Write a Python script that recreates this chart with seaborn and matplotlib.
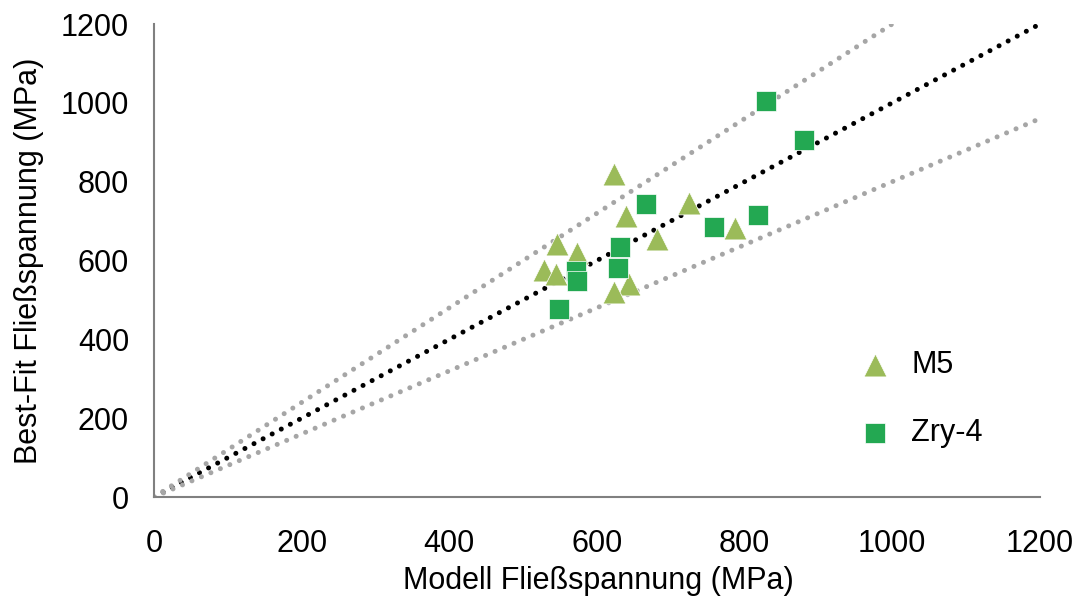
import numpy as np
import pandas as pd
import matplotlib
matplotlib.use("Agg")
import matplotlib.pyplot as plt
import seaborn as sns

# Measured vs. modelled yield stress (MPa)
m5_model = [623, 725, 639, 681, 546, 573, 528, 544, 643, 623, 787]
m5_bestfit = [819, 746, 713, 655, 642, 619, 576, 566, 540, 520, 682]
zry_model = [829, 880, 818, 758, 666, 631, 628, 571, 573, 549]
zry_bestfit = [1005, 906, 715, 685, 743, 634, 581, 573, 548, 477]

# Reference lines: y = x and ±20 % band
band_factors = [1.2, 0.8]
axis_max = 1200
ticks = [0, 200, 400, 600, 800, 1000, 1200]

m5 = pd.DataFrame({"model": m5_model, "bestfit": m5_bestfit})
zry = pd.DataFrame({"model": zry_model, "bestfit": zry_bestfit})

sns.set_style("white")
plt.rcParams["font.family"] = ["Liberation Sans", "DejaVu Sans"]

fs = 22
fig = plt.figure(figsize=(10.81, 6.02), dpi=100)
ax = fig.add_axes([0.1425, 0.1744, 0.8195, 0.7857])

dot_style = (0, (0.01, 2.05))
lw = 3.6
xs = np.array([0, axis_max])
ax.plot(xs, xs, color="black", lw=lw, linestyle=dot_style,
        dash_capstyle="round", zorder=1)
up_x = np.array([0, axis_max / band_factors[0]])
ax.plot(up_x, up_x * band_factors[0], color="#A6A6A6", lw=lw,
        linestyle=dot_style, dash_capstyle="round", zorder=1)
ax.plot(xs, xs * band_factors[1], color="#A6A6A6", lw=lw,
        linestyle=dot_style, dash_capstyle="round", zorder=1)

sns.scatterplot(data=m5, x="model", y="bestfit", marker="^", color="#9BBB59",
                s=270, edgecolor="white", linewidth=0.5, ax=ax, zorder=3,
                label="M5")
sns.scatterplot(data=zry, x="model", y="bestfit", marker="s", color="#23A852",
                s=225, edgecolor="white", linewidth=0.5, ax=ax, zorder=3,
                label="Zry-4")

ax.set_xlim(0, axis_max)
ax.set_ylim(0, axis_max)
ax.set_xticks(ticks)
ax.set_yticks(ticks)
ax.tick_params(axis="both", labelsize=fs, colors="black", length=8,
               width=1.5, direction="out", color="#808080")
ax.tick_params(axis="x", pad=15)
ax.tick_params(axis="y", pad=10)
for side in ["top", "right"]:
    ax.spines[side].set_visible(False)
for side in ["left", "bottom"]:
    ax.spines[side].set_color("#808080")
    ax.spines[side].set_linewidth(1.5)

ax.set_xlabel("Modell Fließspannung (MPa)", fontsize=fs, color="black")
ax.set_ylabel("Best-Fit Fließspannung (MPa)", fontsize=fs, color="black")
ax.xaxis.set_label_coords(0.502, -0.146)
ax.yaxis.set_label_coords(-0.124, 0.5)

leg = ax.legend(loc="center left", bbox_to_anchor=(0.765, 0.208),
                frameon=False, fontsize=fs, labelspacing=1.25,
                handlelength=1.0, handletextpad=0.7)
for t in leg.get_texts():
    t.set_color("black")

fig.savefig("out.png", dpi=100)
